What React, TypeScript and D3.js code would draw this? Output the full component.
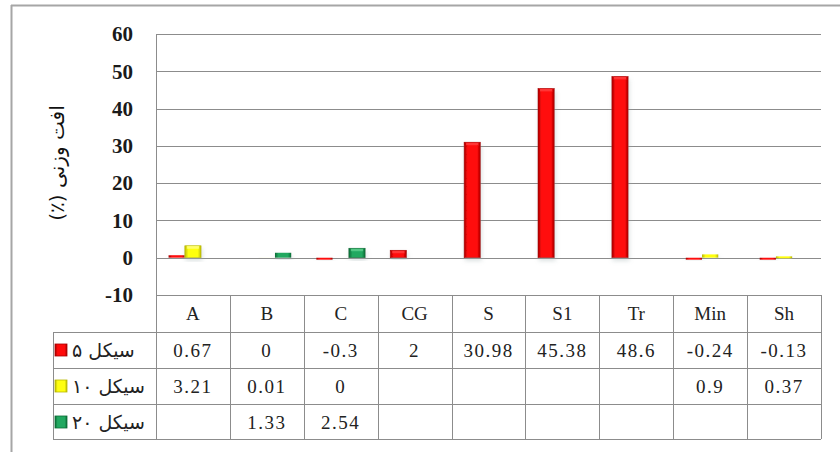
import React from 'react';
import * as d3 from 'd3';

const categories = ['A', 'B', 'C', 'CG', 'S', 'S1', 'Tr', 'Min', 'Sh'];
const seriesNames = ['سیکل ۵', 'سیکل ۱۰', 'سیکل ۲۰'];
const cycle5 = [0.67, 0, -0.3, 2, 30.98, 45.38, 48.6, -0.24, -0.13];
const cycle10 = [3.21, 0.01, 0, null, null, null, null, 0.9, 0.37];
const cycle20 = [null, 1.33, 2.54, null, null, null, null, null, null];
const yTicks = [60, 50, 40, 30, 20, 10, 0, -10];
const yTitle = 'افت وزنی (٪)';

const seriesValues: (number | null)[][] = [cycle5, cycle10, cycle20];
const seriesIds = ['red', 'yellow', 'green'];

const palette: Record<string, [string, string, string]> = {
  red: ['#a80000', '#ff0a0a', '#ff4040'],
  yellow: ['#b8b800', '#ffff10', '#ffff80'],
  green: ['#0b6b35', '#21a860', '#5fd08e'],
};

const App = () => {
  const width = 840;
  const height = 452;

  const left = 156;
  const right = 821;
  const legendLeft = 53;
  const rowH = 36;

  const y = d3.scaleLinear().domain([-10, 60]).range([295, 34]);
  const x0 = d3.scaleBand<string>().domain(categories).range([left, right]).padding(0);
  const x1 = d3
    .scaleBand<string>()
    .domain(seriesIds)
    .range([0, x0.bandwidth()])
    .paddingInner(0)
    .paddingOuter(0.77);

  const tableTop = y(-10);
  const rowTops = [tableTop, tableTop + rowH + 1, tableTop + 2 * rowH + 1, tableTop + 3 * rowH + 1];
  const tableBottom = tableTop + 4 * rowH;

  const grid = '#8c8c8c';
  const serif = '"Liberation Serif", "Times New Roman", serif';
  const arabic = '"DejaVu Sans", sans-serif';

  return (
    <svg
      width={width}
      height={height}
      style={{ position: 'absolute', left: 0, top: 0, background: '#fff' }}
    >
      <defs>
        {seriesIds.map((id) => (
          <linearGradient key={id} id={`grad-${id}`} x1="0" x2="1" y1="0" y2="0">
            <stop offset="0%" stopColor={palette[id][0]} />
            <stop offset="22%" stopColor={palette[id][1]} />
            <stop offset="50%" stopColor={palette[id][1]} />
            <stop offset="80%" stopColor={palette[id][1]} />
            <stop offset="100%" stopColor={palette[id][0]} />
          </linearGradient>
        ))}
        <filter id="shadow" x="-50%" y="-20%" width="200%" height="150%">
          <feDropShadow dx="1" dy="3" stdDeviation="2" floodColor="#9aa" floodOpacity="0.35" />
        </filter>
      </defs>

      {/* moldura */}
      <line x1={11} x2={width} y1={5.5} y2={5.5} stroke="#a6a6a6" strokeWidth={2} />
      <line x1={11.5} x2={11.5} y1={5} y2={height} stroke="#a6a6a6" strokeWidth={2} />

      {/* grade */}
      {yTicks.map((t) => (
        <line
          key={t}
          x1={left}
          x2={right}
          y1={Math.round(y(t)) + 0.5}
          y2={Math.round(y(t)) + 0.5}
          stroke={grid}
          strokeWidth={1}
        />
      ))}
      <line x1={left + 0.5} x2={left + 0.5} y1={Math.round(y(60))} y2={tableBottom} stroke={grid} />

      {yTicks.map((t) => (
        <text
          key={t}
          x={133}
          y={y(t)}
          dy="0.35em"
          textAnchor="end"
          fontFamily={serif}
          fontWeight="bold"
          fontSize={21}
          fill="#1a1a1a"
        >
          {t}
        </text>
      ))}

      <text
        transform={`translate(64,${163}) rotate(-90)`}
        textAnchor="middle"
        direction="rtl"
        fontFamily={arabic}
        fontSize={20}
        fill="#111"
        style={{ direction: 'rtl', unicodeBidi: 'embed' }}
      >
        {yTitle}
      </text>

      {/* barras */}
      {categories.map((c, i) => (
        <g key={c} transform={`translate(${x0(c)},0)`}>
          {seriesIds.map((id, s) => {
            const v = seriesValues[s][i];
            if (v === null || v === 0) return null;
            const top = Math.min(y(v), y(0));
            const raw = Math.abs(y(v) - y(0));
            const h = Math.abs(v) >= 0.1 ? Math.max(raw, 2) : raw;
            const bx = x1(id) as number;
            const bw = x1.bandwidth();
            return (
              <g key={id} filter="url(#shadow)">
                <rect x={bx} y={top} width={bw} height={h} fill={`url(#grad-${id})`} />
                {h > 6 && (
                  <rect x={bx + 2} y={top} width={bw - 4} height={3} fill={palette[id][2]} opacity={0.8} />
                )}
                {h > 6 && (
                  <rect x={bx} y={top} width={bw} height={h} fill="none" stroke={palette[id][0]} strokeWidth={0.6} />
                )}
              </g>
            );
          })}
        </g>
      ))}

      {/* tabela */}
      {rowTops.slice(1).concat([tableBottom]).map((ry, k) => (
        <line
          key={k}
          x1={legendLeft}
          x2={right}
          y1={Math.round(ry) + 0.5}
          y2={Math.round(ry) + 0.5}
          stroke={grid}
        />
      ))}
      {categories.map((c) => (
        <line
          key={c}
          x1={Math.round((x0(c) as number) + x0.bandwidth()) + 0.5}
          x2={Math.round((x0(c) as number) + x0.bandwidth()) + 0.5}
          y1={tableTop}
          y2={tableBottom}
          stroke={grid}
        />
      ))}
      <line
        x1={legendLeft + 0.5}
        x2={legendLeft + 0.5}
        y1={rowTops[1]}
        y2={tableBottom}
        stroke={grid}
      />

      {categories.map((c) => (
        <text
          key={c}
          x={(x0(c) as number) + x0.bandwidth() / 2}
          y={rowTops[0] + rowH / 2}
          dy="0.35em"
          textAnchor="middle"
          fontFamily={serif}
          fontSize={19}
          fill="#222"
        >
          {c}
        </text>
      ))}

      {seriesIds.map((id, s) => {
        const ry = rowTops[s + 1];
        return (
          <g key={id}>
            <rect x={55} y={ry + rowH / 2 - 6} width={12} height={12} fill={`url(#grad-${id})`} stroke={palette[id][0]} strokeWidth={0.8} />
            <text
              x={72}
              y={ry + rowH / 2}
              dy="0.35em"
              fontFamily={arabic}
              fontSize={19}
              fill="#222"
            >
              {seriesNames[s]}
            </text>
            {categories.map((c, i) => {
              const v = seriesValues[s][i];
              if (v === null) return null;
              return (
                <text
                  key={c}
                  x={(x0(c) as number) + x0.bandwidth() / 2}
                  y={ry + rowH / 2}
                  dy="0.35em"
                  textAnchor="middle"
                  fontFamily={serif}
                  fontSize={19}
                  letterSpacing={1.5}
                  fill="#222"
                >
                  {String(v)}
                </text>
              );
            })}
          </g>
        );
      })}
    </svg>
  );
};

export default App;
